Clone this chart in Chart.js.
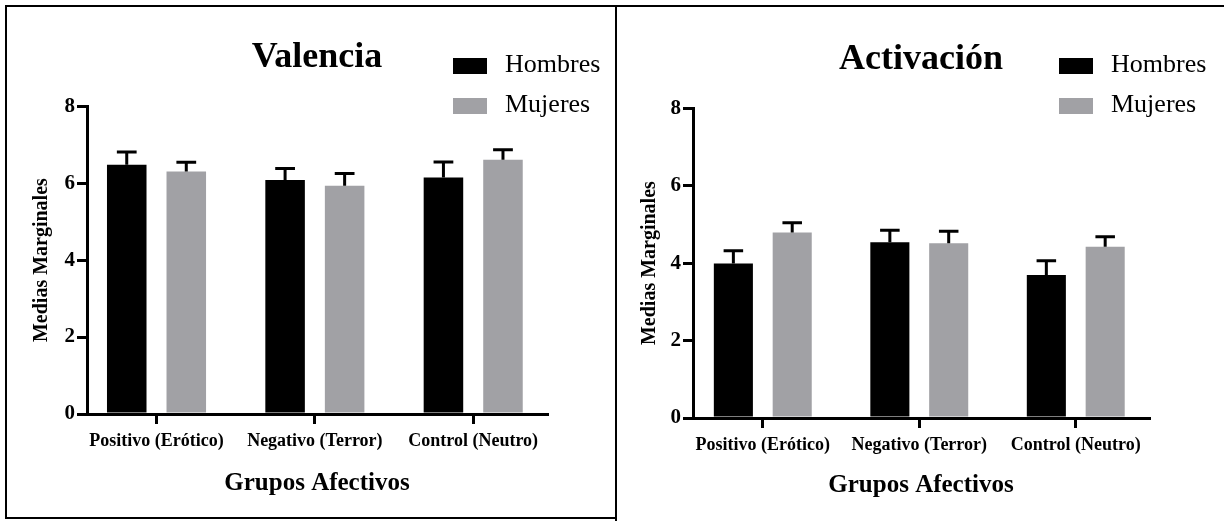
<!DOCTYPE html>
<html>
<head>
<meta charset="utf-8">
<script src="https://cdn.jsdelivr.net/npm/chart.js@4.4.0/dist/chart.umd.min.js"></script>
<style>
  body { margin: 0; background: #fff; width: 1224px; height: 521px; position: relative; overflow: hidden; font-family: "Liberation Serif", serif; }
  canvas { position: absolute; top: 0; }
  #valencia { left: 0; }
  #activacion { left: 612px; }
  .box { position: absolute; box-sizing: border-box; border: 0 solid #000; pointer-events: none; }
  .legend { position: absolute; font-size: 26px; color: #000; }
  .legend .item { display: flex; align-items: center; height: 30px; margin-bottom: 10px; white-space: nowrap; }
  .legend .sw { width: 34px; height: 16px; margin-right: 18px; margin-top: 3px; }
</style>
</head>
<body>
<canvas id="valencia" width="612" height="521"></canvas>
<canvas id="activacion" width="612" height="521"></canvas>
<div class="box" style="left:5px; top:5px; width:612px; height:514px; border-width:2px;"></div>
<div class="box" style="left:615px; top:5px; width:609px; height:516px; border-top-width:2px; border-left-width:2px;"></div>
<div class="legend" id="legend1" style="left:453px; top:49px;"></div>
<div class="legend" id="legend2" style="left:1059px; top:49px;"></div>

<script>
// categories and series
const groups = ['Positivo (Erótico)', 'Negativo (Terror)', 'Control (Neutro)'];
const seriesNames = ['Hombres', 'Mujeres'];
const seriesColors = ['#000000', '#a1a1a5'];
const yTicks = [0, 2, 4, 6, 8];

// Valencia (mean + upper error)
const valenciaHombres = [6.48, 6.08, 6.15];
const valenciaMujeres = [6.30, 5.93, 6.61];
const valenciaHombresErr = [0.33, 0.30, 0.40];
const valenciaMujeresErr = [0.24, 0.32, 0.26];

// Activación (mean + upper error)
const activacionHombres = [3.99, 4.54, 3.69];
const activacionMujeres = [4.79, 4.51, 4.42];
const activacionHombresErr = [0.33, 0.31, 0.37];
const activacionMujeresErr = [0.25, 0.31, 0.26];

const serif = 'Liberation Serif';

// only the upper half of the error bar, with a cap
const errorBars = {
  id: 'errorBars',
  afterDatasetsDraw(chart) {
    const ctx = chart.ctx;
    const yScale = chart.scales.y;
    ctx.save();
    ctx.strokeStyle = '#000';
    ctx.lineWidth = 3;
    chart.data.datasets.forEach((ds, i) => {
      chart.getDatasetMeta(i).data.forEach((bar, j) => {
        const top = yScale.getPixelForValue(ds.data[j].y + ds.err[j]);
        const half = bar.width / 4;
        ctx.beginPath();
        ctx.moveTo(bar.x, bar.y);
        ctx.lineTo(bar.x, top);
        ctx.moveTo(bar.x - half, top);
        ctx.lineTo(bar.x + half, top);
        ctx.stroke();
      });
    });
    ctx.restore();
  }
};

function makeLegend(id) {
  const el = document.getElementById(id);
  seriesNames.forEach((name, s) => {
    const item = document.createElement('div');
    item.className = 'item';
    const sw = document.createElement('span');
    sw.className = 'sw';
    sw.style.background = seriesColors[s];
    item.appendChild(sw);
    item.appendChild(document.createTextNode(name));
    el.appendChild(item);
  });
}

function makeChart(id, title, values, errs, L) {
  return new Chart(document.getElementById(id), {
    type: 'bar',
    data: {
      datasets: seriesNames.map((name, s) => ({
        label: name,
        data: values[s].map((v, i) => ({ x: i, y: v })),
        err: errs[s],
        backgroundColor: seriesColors[s],
        borderWidth: 0,
        categoryPercentage: 0.752,
        barPercentage: 0.664
      }))
    },
    options: {
      responsive: false,
      animation: false,
      events: [],
      layout: { padding: { left: 0, right: L.right, top: 0, bottom: 0 } },
      plugins: {
        legend: { display: false },
        tooltip: { enabled: false },
        title: {
          display: true,
          text: title,
          fullSize: false,
          color: '#000',
          font: { family: serif, size: 36, weight: 'bold' },
          padding: { top: L.titleTop, bottom: L.titleBottom }
        }
      },
      scales: {
        x: {
          type: 'linear',
          offset: false,
          min: L.xMin,
          max: L.xMax,
          afterBuildTicks: s => { s.ticks = groups.map((g, i) => ({ value: i })); },
          afterFit: s => { s.height = L.xHeight; },
          border: { color: '#000', width: 3 },
          grid: { display: true, offset: false, drawOnChartArea: false, drawTicks: true, tickLength: 10, color: '#000', lineWidth: 3 },
          ticks: {
            callback: v => groups[v],
            color: '#000',
            font: { family: serif, size: 18, weight: 'bold' },
            padding: 7,
            maxRotation: 0,
            autoSkip: false
          },
          title: {
            display: true,
            text: 'Grupos Afectivos',
            color: '#000',
            font: { family: serif, size: 25, weight: 'bold' },
            padding: { top: 0, bottom: L.xTitleBottom }
          }
        },
        y: {
          min: 0,
          max: 8,
          afterBuildTicks: s => { s.ticks = yTicks.map(v => ({ value: v })); },
          afterFit: s => { s.width = L.yWidth; },
          border: { color: '#000', width: 3 },
          grid: { display: true, drawOnChartArea: false, drawTicks: true, tickLength: 10, color: '#000', lineWidth: 3 },
          ticks: {
            color: '#000',
            font: { family: serif, size: 21, weight: 'bold' },
            padding: 2
          },
          title: {
            display: true,
            text: 'Medias Marginales',
            color: '#000',
            font: { family: serif, size: 20, weight: 'bold' },
            padding: { top: L.yTitlePad, bottom: 0 }
          }
        }
      }
    },
    plugins: [errorBars]
  });
}

makeLegend('legend1');
makeLegend('legend2');

makeChart('valencia', 'Valencia',
  [valenciaHombres, valenciaMujeres],
  [valenciaHombresErr, valenciaMujeresErr],
  { right: 65, yWidth: 87, xHeight: 107, xMin: -0.439, xMax: 2.466,
    titleTop: 36, titleBottom: 27, xTitleBottom: 22, yTitlePad: 30 });

makeChart('activacion', 'Activación',
  [activacionHombres, activacionMujeres],
  [activacionHombresErr, activacionMujeresErr],
  { right: 75, yWidth: 81, xHeight: 103, xMin: -0.446, xMax: 2.468,
    titleTop: 38, titleBottom: 27, xTitleBottom: 20, yTitlePad: 26 });
</script>
</body>
</html>
